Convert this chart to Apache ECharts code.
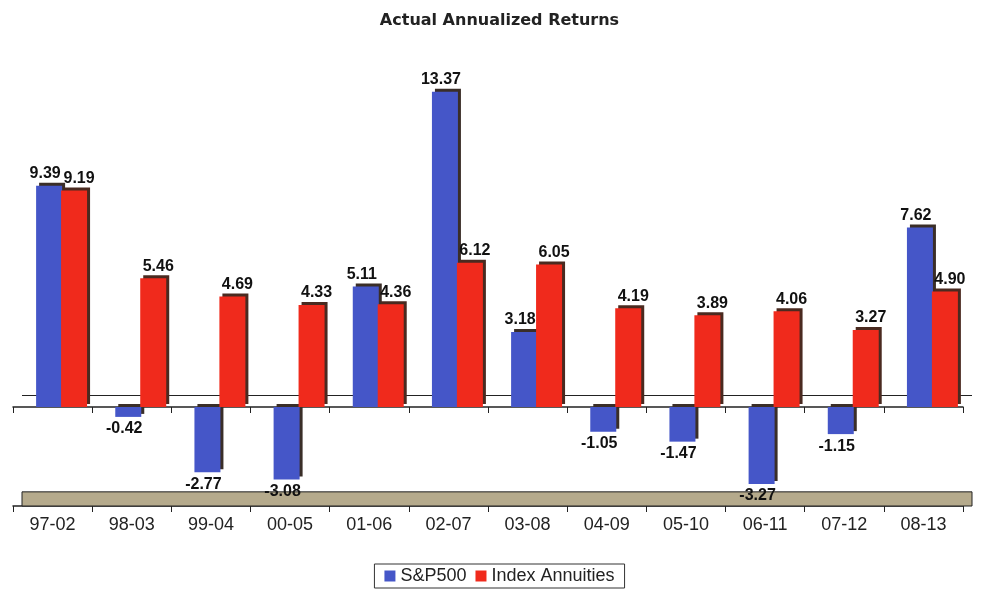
<!doctype html>
<html>
<head>
    <meta charset="utf-8">
    <title>Actual Annualized Returns</title>
    <script src="https://cdn.jsdelivr.net/npm/echarts@6/dist/echarts.min.js"></script>
</head>
<body style="margin:0;">

    <div id="main" style="width:999px;height:590px;"></div>

    <script type="text/javascript">
        var categories = ['97-02', '98-03', '99-04', '00-05', '01-06', '02-07', '03-08', '04-09', '05-10', '06-11', '07-12', '08-13'];
        var sp500 = [9.39, -0.42, -2.77, -3.08, 5.11, 13.37, 3.18, -1.05, -1.47, -3.27, -1.15, 7.62];
        var annuities = [9.19, 5.46, 4.69, 4.33, 4.36, 6.12, 6.05, 4.19, 3.89, 4.06, 3.27, 4.90];

        var mainChart = echarts.init(document.getElementById('main'));

        // negative bars get their label underneath
        function toData(arr) {
            return arr.map(function (v) {
                return {
                    value: v,
                    label: { position: v < 0 ? 'bottom' : 'top' }
                };
            });
        }

        function labelStyle(dx) {
            return {
                show: true,
                color: '#111',
                fontFamily: 'Liberation Sans',
                fontWeight: 'bold',
                fontSize: 16,
                distance: 4,
                offset: [dx, 0],
                formatter: function (p) { return p.value.toFixed(2); }
            };
        }

        var yMin = -4.2, yMax = 14;

        var option = {
            animation: false,
            title: {
                text: 'Actual Annualized Returns',
                left: 'center',
                top: 8,
                textStyle: {
                    fontFamily: 'DejaVu Sans',
                    fontSize: 16,
                    fontWeight: 'bold',
                    color: '#222'
                }
            },
            legend: {
                bottom: 2,
                left: 'center',
                icon: 'rect',
                itemWidth: 11,
                itemHeight: 11,
                itemGap: 9,
                padding: [3, 10],
                borderColor: '#333',
                borderWidth: 1,
                textStyle: {
                    fontFamily: 'Liberation Sans',
                    fontSize: 18,
                    color: '#222'
                },
                data: ['S&P500', 'Index Annuities']
            },
            // grid 0 holds the visible axes, grid 1 holds the bars (shifted right for the 3D look)
            grid: [
                { left: 13, right: 36, top: 77, bottom: 84 },
                { left: 22, right: 27, top: 77, bottom: 84 }
            ],
            xAxis: [{
                type: 'category',
                gridIndex: 0,
                data: categories,
                axisLine: { onZero: false, lineStyle: { color: '#222', width: 1.5 } },
                axisTick: { show: true, length: 6, lineStyle: { color: '#222' } },
                axisLabel: {
                    margin: 10,
                    fontFamily: 'Liberation Sans',
                    fontSize: 18,
                    color: '#222'
                }
            }, {
                type: 'category',
                gridIndex: 0,
                data: categories,
                position: 'bottom',
                axisLine: { onZero: true, lineStyle: { color: '#222', width: 1.5 } },
                axisTick: { show: true, length: 6, lineStyle: { color: '#222' } },
                axisLabel: { show: false }
            }, {
                type: 'category',
                gridIndex: 1,
                data: categories,
                show: false
            }],
            yAxis: [{
                type: 'value',
                gridIndex: 0,
                min: yMin,
                max: yMax,
                show: false,
                splitLine: { show: false }
            }, {
                type: 'value',
                gridIndex: 1,
                min: yMin,
                max: yMax,
                show: false,
                splitLine: { show: false }
            }],
            series: [{
                name: 'S&P500',
                type: 'bar',
                xAxisIndex: 2,
                yAxisIndex: 1,
                barWidth: 26,
                barGap: '-4%',
                z: 3,
                data: toData(sp500),
                label: labelStyle(-4),
                itemStyle: {
                    color: '#4556c8',
                    shadowColor: '#3a2e28',
                    shadowOffsetX: 3,
                    shadowOffsetY: -3
                },
                markLine: {
                    silent: true,
                    symbol: 'none',
                    z: 1,
                    label: { show: false },
                    lineStyle: { color: '#222', width: 1.2, type: 'solid' },
                    data: [{ yAxis: 0.5 }]
                },
                markArea: {
                    silent: true,
                    itemStyle: {
                        color: '#b5aa8c',
                        borderColor: '#222',
                        borderWidth: 1
                    },
                    data: [[{ yAxis: yMin }, { yAxis: -3.6 }]]
                }
            }, {
                name: 'Index Annuities',
                type: 'bar',
                xAxisIndex: 2,
                yAxisIndex: 1,
                barWidth: 26,
                z: 3,
                data: toData(annuities),
                label: labelStyle(5),
                itemStyle: {
                    color: '#f02a1c',
                    shadowColor: '#4a2a20',
                    shadowOffsetX: 3,
                    shadowOffsetY: -3
                }
            }]
        };

        mainChart.setOption(option);
    </script>
</body>
</html>
